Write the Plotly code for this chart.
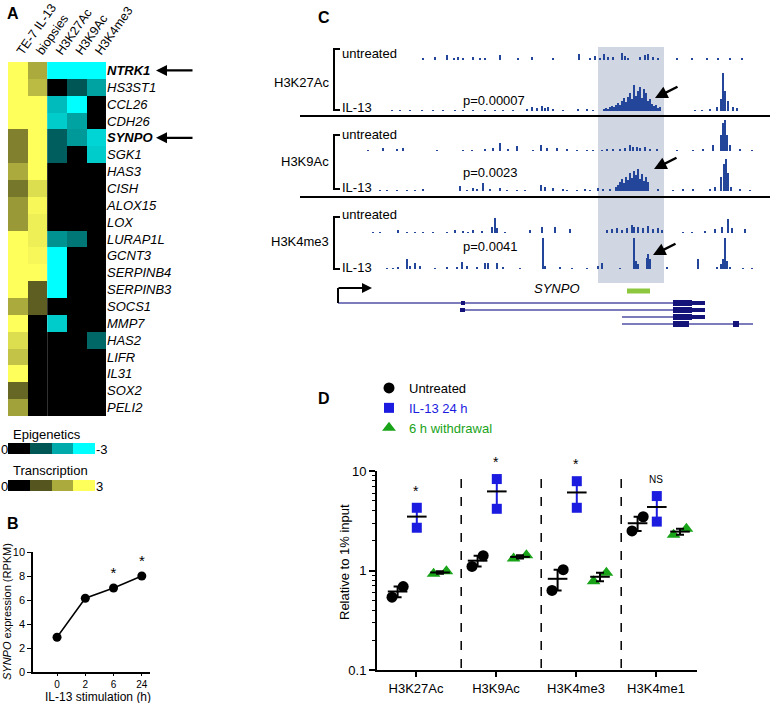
import numpy as np
import plotly.graph_objects as go

W, H = 770, 703
FONT = "Arial, Liberation Sans, sans-serif"


def px(x):
    return x / W


def py(y):
    return 1 - y / H


# ---------------- Panel A: heatmap ----------------
genes = ["NTRK1", "HS3ST1", "CCL26", "CDH26", "SYNPO", "SGK1", "HAS3", "CISH",
         "ALOX15", "LOX", "LURAP1L", "GCNT3", "SERPINB4", "SERPINB3", "SOCS1",
         "MMP7", "HAS2", "LIFR", "IL31", "SOX2", "PELI2"]
bold_genes = ["NTRK1", "SYNPO"]
headers = ["TE-7 IL-13", "biopsies", "H3K27Ac", "H3K9Ac", "H3K4me3"]
te7_il13 = [3.0, 3.0, 3.0, 3.0, 1.5, 1.5, 2.0, 1.4, 1.8, 1.8, 3.0, 3.0, 3.0, 3.0,
            2.0, 3.0, 2.6, 2.3, 3.0, 1.2, 1.9]
biopsies = [2.0, 2.2, 3.0, 3.0, 3.0, 3.0, 3.0, 2.6, 2.9, 2.8, 2.8, 2.9, 3.0, 1.1,
            1.1, 0, 0, 0, 0, 0, 0]
h3k27ac = [-3, 0, -2.2, -2.4, -1.1, -1.1, 0, 0, 0, 0, -1.7, -3, -3, -3, 0, -2.4,
           0, 0, 0, 0, 0]
h3k9ac = [-3, -1.0, -3, -1.9, -1.8, 0, 0, 0, 0, 0, -1.4, 0, 0, 0, 0, 0, 0, 0, 0, 0, 0]
h3k4me3 = [-3, -1.9, 0, 0, -2.5, -2.4, 0, 0, 0, 0, 0, 0, 0, 0, 0, 0, -1.2, 0, 0, 0, 0]
epi_legend = [0, -1, -2, -3]
trans_legend = [0, 1, 2, 3]

# ---------------- Panel B ----------------
hours = ["0", "2", "6", "24"]
rpkm = [2.9, 6.15, 7.0, 8.0]
b_sig = ["", "", "*", "*"]

# ---------------- Panel C: browser tracks (position, height) ----------------
k27_untr_pos = [123, 135, 147, 154, 158, 163, 173, 180, 185, 200, 218, 232, 253, 279, 290,
                295, 300, 304, 308, 313, 322, 325, 328, 340, 345, 348, 353, 358, 377, 392,
                407, 418, 430, 442]
k27_untr_h = [2, 3, 5, 2, 3, 2, 3, 2, 2, 5, 2, 3, 2, 6, 2, 4, 2, 6, 3, 3, 7, 4, 2, 3, 5, 6,
              3, 2, 2, 2, 2, 2, 2, 2]
k27_il13_pos = [92, 100, 110, 122, 133, 143, 155, 163, 173, 185, 195, 203, 213, 227, 232,
                237, 242, 245, 248, 253, 263, 278, 287, 293,
                304, 306, 308, 310, 312, 314, 316, 318, 320, 322, 324, 326, 328, 330, 332,
                334, 336, 338, 340, 342, 344, 346, 348, 350, 352, 354, 356, 358, 360,
                395, 402, 410, 417, 421, 423, 425, 428, 433, 437]
k27_il13_h = [1, 1, 1, 1, 1, 1, 1, 1, 1, 1, 1, 1, 1, 2, 4, 3, 5, 3, 4, 2, 1, 2, 2, 1,
              2, 3, 2, 4, 5, 4, 6, 8, 6, 10, 13, 9, 14, 18, 12, 26, 15, 20, 24, 13, 22, 18,
              10, 12, 7, 5, 6, 3, 4,
              1, 1, 2, 4, 12, 38, 20, 10, 4, 3]
k9_untr_pos = [68, 83, 97, 103, 137, 163, 172, 185, 193, 200, 208, 217, 233, 241, 247, 257,
               267, 277, 287, 293, 302, 307, 313, 320, 325, 330, 333, 337, 340, 345, 350,
               357, 377, 393, 403, 413, 421, 423, 425, 427, 430, 440, 452]
k9_untr_h = [1, 3, 2, 3, 1, 1, 1, 2, 3, 8, 2, 5, 1, 6, 3, 3, 2, 1, 1, 1, 1, 2, 2, 2, 3, 6,
             4, 4, 3, 4, 2, 2, 1, 1, 2, 6, 16, 28, 31, 16, 6, 2, 1]
k9_il13_pos = [80, 87, 97, 107, 115, 123, 160, 167, 173, 177, 183, 190, 200, 207, 217, 225,
               241, 245, 253, 263, 267, 277, 285, 290, 298, 303, 310,
               316, 318, 320, 322, 324, 326, 328, 330, 332, 334, 336, 338, 340, 342, 344,
               346, 348,
               358, 373, 383, 393, 410, 415, 421, 424, 426, 428, 431, 440, 450]
k9_il13_h = [1, 1, 1, 1, 1, 2, 5, 1, 3, 2, 8, 2, 3, 1, 1, 1, 6, 4, 3, 2, 1, 1, 2, 1, 3, 2, 2,
             4, 6, 9, 12, 8, 14, 11, 18, 13, 20, 16, 22, 12, 17, 10, 14, 9,
             2, 1, 2, 2, 2, 4, 14, 27, 32, 18, 4, 2, 1]
k4_untr_pos = [73, 80, 98, 107, 115, 123, 133, 147, 155, 163, 168, 173, 182, 192, 195, 197,
               205, 230, 242, 255, 270, 307, 312, 317, 322, 327, 332, 334, 338, 343, 348,
               353, 358, 362, 383, 392, 405, 415, 422, 428, 432, 445]
k4_untr_h = [1, 1, 3, 1, 1, 1, 1, 1, 3, 2, 1, 3, 2, 6, 15, 5, 1, 3, 6, 6, 4, 3, 4, 5, 3, 5,
             8, 6, 6, 5, 7, 4, 5, 3, 1, 1, 2, 4, 6, 14, 5, 4]
k4_il13_pos = [87, 93, 98, 107, 110, 115, 120, 135, 147, 157, 162, 167, 177, 185, 188, 197,
               203, 220, 243, 245, 260, 272, 287, 298, 302, 320, 334, 336, 338, 347, 348,
               350, 367, 398, 417, 421, 423, 425, 427, 430, 443, 452]
k4_il13_h = [1, 1, 2, 10, 3, 6, 3, 1, 2, 2, 7, 3, 2, 6, 6, 6, 2, 1, 31, 3, 2, 1, 1, 3, 6, 1,
             31, 8, 5, 11, 15, 10, 2, 10, 2, 5, 10, 31, 8, 2, 1, 1]

# gene model of SYNPO (start, end, exons as (start, end, thick))
transcripts = [
    dict(start=38, end=405, exons=[(161, 165, False), (373, 392, True), (392, 405, False)]),
    dict(start=160, end=405, exons=[(160, 165, False), (373, 392, True), (392, 405, False)]),
    dict(start=322, end=405, exons=[(373, 392, True), (392, 405, False)]),
    dict(start=322, end=453, exons=[(373, 389, True), (433, 439, True)]),
]
highlight_region = [298, 364]
dmr_region = [327, 350]

# ---------------- Panel D ----------------
marks = ["H3K27Ac", "H3K9Ac", "H3K4me3", "H3K4me1"]
untreated_rep1 = [0.54, 1.10, 0.63, 2.50]
untreated_rep2 = [0.69, 1.41, 1.02, 3.47]
il13_rep1 = [2.69, 4.17, 4.27, 3.10]
il13_rep2 = [4.27, 8.30, 7.90, 5.60]
withdraw_rep1 = [0.93, 1.32, 0.78, 2.29]
withdraw_rep2 = [0.98, 1.42, 0.95, 2.63]
d_sig = ["*", "*", "*", "NS"]

fig = go.Figure()

# ---- A
fig.add_trace(go.Heatmap(
    z=[[a, b] for a, b in zip(te7_il13, biopsies)], x=[0, 1], y=genes,
    colorscale=[[0, "black"], [1, "#ffff5c"]], zmin=0, zmax=3, showscale=False,
    xaxis="x", yaxis="y", hoverinfo="skip"))
fig.add_trace(go.Heatmap(
    z=[[a, b, c] for a, b, c in zip(h3k27ac, h3k9ac, h3k4me3)], x=[2, 3, 4], y=genes,
    colorscale=[[0, "#00ffff"], [1, "black"]], zmin=-3, zmax=0, showscale=False,
    xaxis="x", yaxis="y", hoverinfo="skip"))
fig.add_trace(go.Heatmap(
    z=[epi_legend], x=[0, 1, 2, 3], y=[0], colorscale=[[0, "#00ffff"], [1, "black"]],
    zmin=-3, zmax=0, showscale=False, xaxis="x2", yaxis="y2", hoverinfo="skip"))
fig.add_trace(go.Heatmap(
    z=[trans_legend], x=[0, 1, 2, 3], y=[0], colorscale=[[0, "black"], [1, "#ffff5c"]],
    zmin=0, zmax=3, showscale=False, xaxis="x3", yaxis="y3", hoverinfo="skip"))

gene_text = ["<b><i>%s</i></b>" % g if g in bold_genes else "<i>%s</i>" % g for g in genes]

# ---- B
fig.add_trace(go.Scatter(
    x=hours, y=rpkm, mode="lines+markers+text", text=b_sig, textposition="top center",
    textfont=dict(size=15, color="black"),
    line=dict(color="black", width=1.5), marker=dict(color="black", size=9),
    xaxis="x4", yaxis="y4", showlegend=False))

# ---- C
bar_color = "#23469a"
tracks = [
    (k27_untr_pos, k27_untr_h, 275),
    (k27_il13_pos, k27_il13_h, 224),
    (k9_untr_pos, k9_untr_h, 184),
    (k9_il13_pos, k9_il13_h, 144),
    (k4_untr_pos, k4_untr_h, 102),
    (k4_il13_pos, k4_il13_h, 66),
]
for pos, hts, base in tracks:
    fig.add_trace(go.Bar(
        x=pos, y=hts, base=base, width=1.4, marker=dict(color=bar_color, line_width=0),
        xaxis="x5", yaxis="y5", showlegend=False, hoverinfo="skip"))

tr_y = [32, 25, 18, 11]
for t, yy in zip(transcripts, tr_y):
    fig.add_trace(go.Scatter(
        x=[t["start"], t["end"]], y=[yy, yy], mode="lines",
        line=dict(color="#7c7cbc", width=2), xaxis="x5", yaxis="y5",
        showlegend=False, hoverinfo="skip"))
    for s, e, thick in t["exons"]:
        fig.add_trace(go.Scatter(
            x=[s, e], y=[yy, yy], mode="lines",
            line=dict(color="#13137a", width=6 if thick else 4), xaxis="x5", yaxis="y5",
            showlegend=False, hoverinfo="skip"))
fig.add_trace(go.Scatter(
    x=dmr_region, y=[44, 44], mode="lines", line=dict(color="#8dc63f", width=5),
    xaxis="x5", yaxis="y5", showlegend=False, hoverinfo="skip"))
fig.add_trace(go.Scatter(
    x=[transcripts[0]["start"]] * 2, y=[tr_y[0], 47], mode="lines",
    line=dict(color="black", width=2), xaxis="x5", yaxis="y5",
    showlegend=False, hoverinfo="skip"))

# ---- D
groups = [
    ("Untreated", untreated_rep1, untreated_rep2, "black", "circle", 11, (-0.30, -0.16), "black"),
    ("<span style='color:#1c1ce0'>IL-13 24 h</span>", il13_rep1, il13_rep2, "#1c1ce0",
     "square", 10, (0.01, 0.01), "#1c1ce0"),
    ("<span style='color:#19a319'>6 h withdrawal</span>", withdraw_rep1, withdraw_rep2, "#19a319",
     "triangle-up", 12, (0.22, 0.38), "black"),
]
xi = np.arange(len(marks))
for name, r1, r2, col, sym, size, offs, ecol in groups:
    vals = np.array([r1, r2])
    xs = np.concatenate([xi + offs[0], xi + offs[1]])
    fig.add_trace(go.Scatter(
        x=xs, y=np.concatenate([vals[0], vals[1]]), mode="markers", name=name,
        marker=dict(color=col, symbol=sym, size=size), xaxis="x6", yaxis="y6",
        showlegend=True))
    mean = vals.mean(axis=0)
    sem = vals.std(axis=0, ddof=1) / np.sqrt(2)
    fig.add_trace(go.Scatter(
        x=xi + np.mean(offs), y=mean, mode="markers",
        marker=dict(symbol="line-ew-open", size=14, color="black",
                    line=dict(color="black", width=2)),
        error_y=dict(type="data", array=sem, color=ecol, thickness=2, width=4),
        xaxis="x6", yaxis="y6", showlegend=False, hoverinfo="skip"))

il13_max = np.maximum(il13_rep1, il13_rep2)

annotations = []
for lab, x, y in [("A", 5, 14), ("B", 5, 523), ("C", 316, 17), ("D", 316, 398)]:
    annotations.append(dict(text="<b>%s</b>" % lab, x=px(x), y=py(y), xref="paper", yref="paper",
                            xanchor="left", yanchor="middle", showarrow=False,
                            font=dict(size=16, color="black")))
# heatmap arrows
for g in bold_genes:
    annotations.append(dict(x=px(156), y=genes.index(g), xref="paper", yref="y", ax=38, ay=0,
                            showarrow=True, arrowhead=2, arrowsize=1, arrowwidth=2.2,
                            arrowcolor="black", text=""))
# colour legends
for txt, x, y, anc in [("Epigenetics", 12, 434, "left"), ("0", 4, 449, "center"),
                       ("-3", 95, 449, "left"), ("Transcription", 12, 470, "left"),
                       ("0", 4, 486, "center"), ("3", 95, 486, "left")]:
    annotations.append(dict(text=txt, x=px(x), y=py(y), xref="paper", yref="paper",
                            xanchor=anc, yanchor="middle", showarrow=False, borderpad=0,
                            font=dict(size=13, color="black")))
# axis titles for B and D
annotations.append(dict(text="IL-13 stimulation (h)", x=px(98), y=py(697), xref="paper",
                        yref="paper", xanchor="center", yanchor="middle", showarrow=False,
                        borderpad=0, font=dict(size=12, color="black")))
annotations.append(dict(text="<i>SYNPO</i> expression (RPKM)", x=px(7), y=py(612),
                        xref="paper", yref="paper", xanchor="center", yanchor="middle",
                        textangle=-90, showarrow=False, borderpad=0,
                        font=dict(size=11, color="black")))
annotations.append(dict(text="Relative to 1% input", x=px(344), y=py(562),
                        xref="paper", yref="paper", xanchor="center", yanchor="middle",
                        textangle=-90, showarrow=False, font=dict(size=13, color="black")))
# panel C labels
for name, yl, yu, yi, pval, yp in [("H3K27Ac", 82, 53, 108, "p=0.00007", 101),
                                   ("H3K9Ac", 162, 134, 187, "p=0.0023", 172),
                                   ("H3K4me3", 241, 214, 267, "p=0.0041", 247)]:
    annotations.append(dict(text=name, x=px(331), y=py(yl), xref="paper", yref="paper",
                            xanchor="right", yanchor="middle", showarrow=False,
                            font=dict(size=13, color="black")))
    annotations.append(dict(text="untreated", x=px(340), y=py(yu), xref="paper", yref="paper",
                            xanchor="left", yanchor="middle", showarrow=False,
                            font=dict(size=13, color="black")))
    annotations.append(dict(text="IL-13", x=px(340), y=py(yi), xref="paper", yref="paper",
                            xanchor="left", yanchor="middle", showarrow=False,
                            font=dict(size=13, color="black")))
    annotations.append(dict(text=pval, x=px(461), y=py(yp), xref="paper", yref="paper",
                            xanchor="left", yanchor="middle", showarrow=False,
                            font=dict(size=13, color="black")))
for hx, hy in [(355, 237), (354, 166), (353, 80)]:
    annotations.append(dict(x=hx, y=hy, xref="x5", yref="y5", ax=24, ay=-12, showarrow=True,
                            arrowhead=2, arrowsize=1, arrowwidth=2.5, arrowcolor="black",
                            text=""))
annotations.append(dict(x=72, y=47, xref="x5", yref="y5", ax=37, ay=47, axref="x5", ayref="y5",
                        showarrow=True, arrowhead=2, arrowsize=1, arrowwidth=2,
                        arrowcolor="black", text=""))
annotations.append(dict(text="<i>SYNPO</i>", x=257, y=47, xref="x5", yref="y5",
                        xanchor="center", yanchor="middle", showarrow=False,
                        font=dict(size=13, color="black")))
# panel D significance
for i, s in enumerate(d_sig):
    annotations.append(dict(text=s, x=i, y=np.log10(il13_max[i]), xref="x6", yref="y6",
                            yshift=17, showarrow=False,
                            font=dict(size=14 if s == "*" else 10, color="black")))

shapes = []
shapes.append(dict(type="rect", xref="x5", yref="y5", x0=highlight_region[0],
                   x1=highlight_region[1], y0=52, y1=288, fillcolor="#d1d6e3",
                   line=dict(width=0), layer="below"))
for yline in [116, 197]:
    shapes.append(dict(type="line", xref="paper", yref="paper", x0=px(300), x1=1,
                       y0=py(yline), y1=py(yline), line=dict(color="black", width=2)))
for y0, y1 in [(49, 110), (135, 189), (217, 269)]:
    shapes.append(dict(type="path", xref="paper", yref="paper",
                       path="M %f,%f L %f,%f L %f,%f L %f,%f" % (
                           px(340), py(y0), px(334), py(y0), px(334), py(y1), px(340), py(y1)),
                       line=dict(color="black", width=2)))
for xd in [0.565, 1.565, 2.565]:
    shapes.append(dict(type="line", xref="x6", yref="y6 domain", x0=xd, x1=xd, y0=0.01, y1=0.98,
                       line=dict(color="black", width=1.5, dash="dash")))

minor_vals = [v * m for m in [0.1, 1] for v in range(2, 10)]

fig.update_layout(
    width=W, height=H, margin=dict(l=0, r=0, t=0, b=0, autoexpand=False),
    paper_bgcolor="white", plot_bgcolor="white",
    font=dict(family=FONT, color="black"),
    barmode="overlay", bargap=0,
    showlegend=True,
    legend=dict(x=px(369), y=py(373), xanchor="left", yanchor="top",
                font=dict(size=13), bgcolor="rgba(0,0,0,0)", tracegroupgap=0),
    xaxis=dict(domain=[px(8), px(106)], range=[-0.5, 4.5], side="top", tickmode="array",
               tickvals=[0, 1, 2, 3, 4], ticktext=headers, tickangle=-55,
               tickfont=dict(size=12.5), showgrid=False, zeroline=False, ticks="",
               anchor="y", automargin=False),
    yaxis=dict(domain=[py(416), py(62)], autorange="reversed", side="right", tickmode="array",
               tickvals=genes, ticktext=gene_text, tickfont=dict(size=13), showgrid=False,
               zeroline=False, ticks="", anchor="x", automargin=False),
    xaxis2=dict(domain=[px(8), px(95)], range=[-0.5, 3.5], visible=False, anchor="y2"),
    yaxis2=dict(domain=[py(454), py(443)], range=[-0.5, 0.5], visible=False, anchor="x2"),
    xaxis3=dict(domain=[px(8), px(95)], range=[-0.5, 3.5], visible=False, anchor="y3"),
    yaxis3=dict(domain=[py(491), py(480)], range=[-0.5, 0.5], visible=False, anchor="x3"),
    xaxis4=dict(domain=[px(33), px(150)], type="category", range=[-0.85, 3.29], anchor="y4",
                showline=True, linewidth=1.5, linecolor="black", ticks="outside", ticklen=2,
                tickcolor="black", tickfont=dict(size=10), showgrid=False, zeroline=False,
                automargin=False),
    yaxis4=dict(domain=[py(672), py(552)], range=[0, 10], dtick=2, anchor="x4",
                showline=True, linewidth=1.5, linecolor="black", ticks="outside", ticklen=4,
                tickcolor="black", tickfont=dict(size=11), showgrid=False, zeroline=False,
                automargin=False),
    xaxis5=dict(domain=[px(300), 1], range=[0, 470], visible=False, anchor="y5"),
    yaxis5=dict(domain=[py(335), py(40)], range=[0, 295], visible=False, anchor="x5"),
    xaxis6=dict(domain=[px(377), px(697)], range=[-0.4875, 3.5125], anchor="y6",
                tickmode="array", tickvals=list(range(len(marks))), ticktext=marks,
                showline=True, linewidth=2, linecolor="black", ticks="outside", ticklen=5,
                tickwidth=2, tickcolor="black", tickfont=dict(size=13), showgrid=False,
                zeroline=False, automargin=False),
    yaxis6=dict(domain=[py(670), py(471)], type="log", range=[-1, 1], anchor="x6",
                tickmode="array", tickvals=[0.1, 1, 10], ticktext=["0.1", "1", "10"],
                showline=True, linewidth=2, linecolor="black", ticks="outside", ticklen=6,
                tickwidth=2, tickcolor="black", tickfont=dict(size=13), showgrid=False,
                zeroline=False, automargin=False,
                minor=dict(tickmode="array", tickvals=minor_vals, ticks="outside", ticklen=3,
                           tickwidth=1, tickcolor="black", showgrid=False)),
    annotations=annotations,
    shapes=shapes,
)

# the page body has a default 8px margin; drop it so the figure fills the window
fig.write_html("out.html", config={"displayModeBar": False},
               post_script="document.body.style.margin = '0px';")
